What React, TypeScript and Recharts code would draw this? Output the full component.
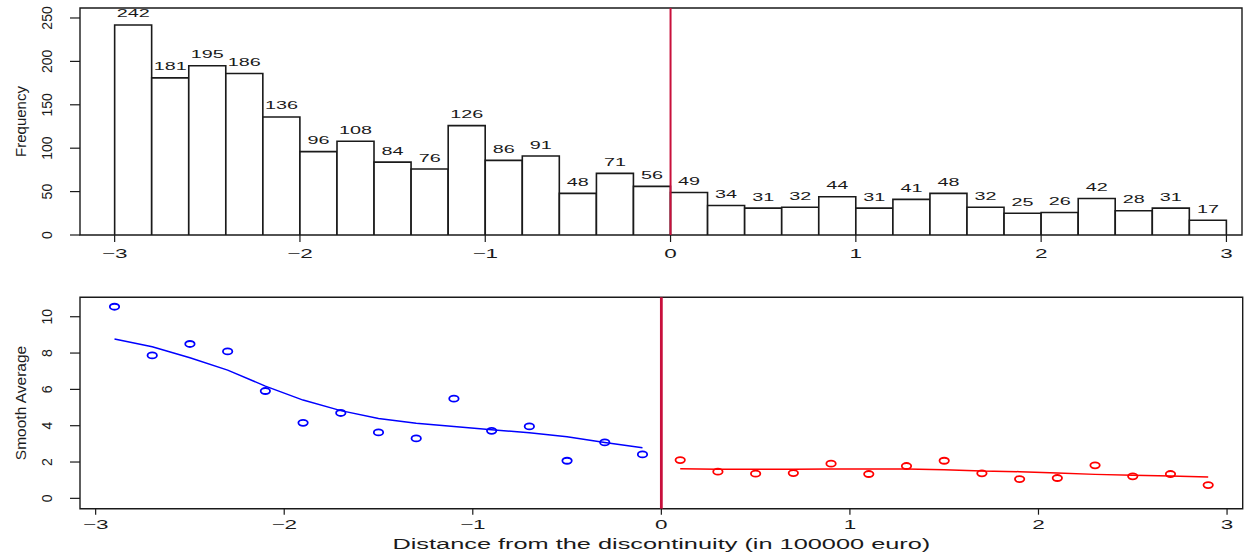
import { BarChart, ComposedChart, Bar, Scatter, Line, XAxis, YAxis, ReferenceLine, ReferenceArea, LabelList } from 'recharts'

const binMids = [-2.9, -2.7, -2.5, -2.3, -2.1, -1.9, -1.7, -1.5, -1.3, -1.1, -0.9, -0.7, -0.5, -0.3, -0.1,
  0.1, 0.3, 0.5, 0.7, 0.9, 1.1, 1.3, 1.5, 1.7, 1.9, 2.1, 2.3, 2.5, 2.7, 2.9]
const binCounts = [242, 181, 195, 186, 136, 96, 108, 84, 76, 126, 86, 91, 48, 71, 56,
  49, 34, 31, 32, 44, 31, 41, 48, 32, 25, 26, 42, 28, 31, 17]

const leftX = [-2.9, -2.7, -2.5, -2.3, -2.1, -1.9, -1.7, -1.5, -1.3, -1.1, -0.9, -0.7, -0.5, -0.3, -0.1]
const leftAvg = [10.55, 7.87, 8.5, 8.09, 5.91, 4.16, 4.7, 3.63, 3.3, 5.49, 3.72, 3.96, 2.07, 3.08, 2.42]
const leftFit = [8.77, 8.35, 7.74, 7.06, 6.18, 5.41, 4.83, 4.4, 4.13, 3.95, 3.78, 3.61, 3.39, 3.08, 2.79]

const rightX = [0.1, 0.3, 0.5, 0.7, 0.9, 1.1, 1.3, 1.5, 1.7, 1.9, 2.1, 2.3, 2.5, 2.7, 2.9]
const rightAvg = [2.11, 1.47, 1.36, 1.39, 1.91, 1.34, 1.78, 2.07, 1.38, 1.06, 1.12, 1.82, 1.21, 1.34, 0.73]
const rightFit = [1.63, 1.6, 1.6, 1.6, 1.61, 1.61, 1.61, 1.58, 1.5, 1.47, 1.39, 1.32, 1.27, 1.23, 1.17]

const xTicks = [-3, -2, -1, 0, 1, 2, 3]
const freqTicks = [0, 50, 100, 150, 200, 250]
const avgTicks = [0, 2, 4, 6, 8, 10]

const histX: [number, number] = [-3.187, 3.084]
const histY: [number, number] = [0, 261.5]
const avgX: [number, number] = [-3.083, 3.083]
const avgY: [number, number] = [-0.57, 11.07]

const FONT = '"Liberation Sans", Arial, Helvetica, sans-serif'
const INK = '#1a1a1a'
const CUT = '#c8103c'

const fmt = (v: number) => (v < 0 ? `\u2212${-v}` : `${v}`)

const histData = binMids.map((x, i) => ({ x, count: binCounts[i] }))
const leftPts = leftX.map((x, i) => ({ x, y: leftAvg[i] }))
const rightPts = rightX.map((x, i) => ({ x, y: rightAvg[i] }))
const leftLine = leftX.map((x, i) => ({ x, y: leftFit[i] }))
const rightLine = rightX.map((x, i) => ({ x, y: rightFit[i] }))

// R output was stretched sideways, so horizontal text gets a scaleX
const XTick = (props: any) => {
  const { x, y, payload, dy } = props
  return (
    <g transform={`translate(${x},${y + dy}) scale(1.8,1)`}>
      <text textAnchor="middle" fontFamily={FONT} fontSize={12.5} fill={INK}>{fmt(payload.value)}</text>
    </g>
  )
}

const YTick = (props: any) => {
  const { x, y, payload } = props
  return (
    <g transform={`translate(${x - 18},${y}) rotate(-90)`}>
      <text textAnchor="middle" fontFamily={FONT} fontSize={14} fill={INK}>{payload.value}</text>
    </g>
  )
}

const yTitle = (text: string, size: number) => (props: any) => {
  const { viewBox } = props
  return (
    <g transform={`translate(26,${viewBox.y + viewBox.height / 2}) rotate(-90)`}>
      <text textAnchor="middle" fontFamily={FONT} fontSize={size} fill={INK}>{text}</text>
    </g>
  )
}

const xTitle = (props: any) => {
  const { viewBox } = props
  return (
    <g transform={`translate(${viewBox.x + viewBox.width / 2},${viewBox.y + 40.3}) scale(1.69,1)`}>
      <text textAnchor="middle" fontFamily={FONT} fontSize={15} fill={INK}>
        Distance from the discontinuity (in 100000 euro)
      </text>
    </g>
  )
}

const countLabel = (props: any) => {
  const { x, y, width, value } = props
  return (
    <g transform={`translate(${x + width / 2},${y - 7.5}) scale(1.8,1)`}>
      <text textAnchor="middle" fontFamily={FONT} fontSize={11} fill={INK}>{value}</text>
    </g>
  )
}

const ring = (color: string) => (props: any) => (
  <ellipse cx={props.cx} cy={props.cy} rx={4.7} ry={3} fill="none" stroke={color} strokeWidth={1.8} />
)

function Histogram() {
  return (
    <BarChart width={1244} height={270} data={histData} barCategoryGap={0} barGap={0}
      margin={{ top: 8, right: 2, left: 0, bottom: 0 }}>
      <XAxis dataKey="x" type="number" domain={histX} ticks={xTicks} allowDataOverflow
        height={35} tickSize={7} tickMargin={0} axisLine={false}
        tickLine={{ stroke: INK, strokeWidth: 1.2 }} tick={<XTick dy={15.7} />} />
      <YAxis type="number" domain={histY} ticks={freqTicks} allowDataOverflow
        width={80} tickSize={10} tickMargin={0} axisLine={false}
        tickLine={{ stroke: INK, strokeWidth: 1.2 }} tick={<YTick />}
        label={{ content: yTitle('Frequency', 15) }} />
      <ReferenceArea x1={histX[0]} x2={histX[1]} y1={histY[0]} y2={histY[1]}
        fill="none" stroke={INK} strokeWidth={1.4} />
      <Bar dataKey="count" fill="#fff" stroke={INK} strokeWidth={1.6} isAnimationActive={false}>
        <LabelList dataKey="count" content={countLabel} />
      </Bar>
      <ReferenceLine x={0} stroke={CUT} strokeWidth={2} />
    </BarChart>
  )
}

function SmoothPanel() {
  return (
    <ComposedChart width={1244} height={284} margin={{ top: 27.3, right: 1.3, left: 0, bottom: 0 }}>
      <XAxis dataKey="x" type="number" domain={avgX} ticks={xTicks} allowDataOverflow
        height={45.3} tickSize={6} tickMargin={0} axisLine={false}
        tickLine={{ stroke: INK, strokeWidth: 1.2 }} tick={<XTick dy={14.6} />}
        label={{ content: xTitle }} />
      <YAxis dataKey="y" type="number" domain={avgY} ticks={avgTicks} allowDataOverflow
        width={80} tickSize={10} tickMargin={0} axisLine={false}
        tickLine={{ stroke: INK, strokeWidth: 1.2 }} tick={<YTick />}
        label={{ content: yTitle('Smooth Average', 15.5) }} />
      <ReferenceArea x1={avgX[0]} x2={avgX[1]} y1={avgY[0]} y2={avgY[1]}
        fill="none" stroke={INK} strokeWidth={1.4} />
      <ReferenceLine x={0} stroke={CUT} strokeWidth={2.8} />
      <Line data={leftLine} dataKey="y" type="linear" stroke="#0000ff" strokeWidth={1.5}
        dot={false} activeDot={false} isAnimationActive={false} />
      <Line data={rightLine} dataKey="y" type="linear" stroke="#ff0000" strokeWidth={1.5}
        dot={false} activeDot={false} isAnimationActive={false} />
      <Scatter data={leftPts} dataKey="y" shape={ring('#0000ff')} isAnimationActive={false} />
      <Scatter data={rightPts} dataKey="y" shape={ring('#ff0000')} isAnimationActive={false} />
    </ComposedChart>
  )
}

export default function App() {
  return (
    <div style={{ position: 'absolute', left: 0, top: 0, width: 1244, height: 554, background: '#fff' }}>
      <Histogram />
      <SmoothPanel />
    </div>
  )
}
